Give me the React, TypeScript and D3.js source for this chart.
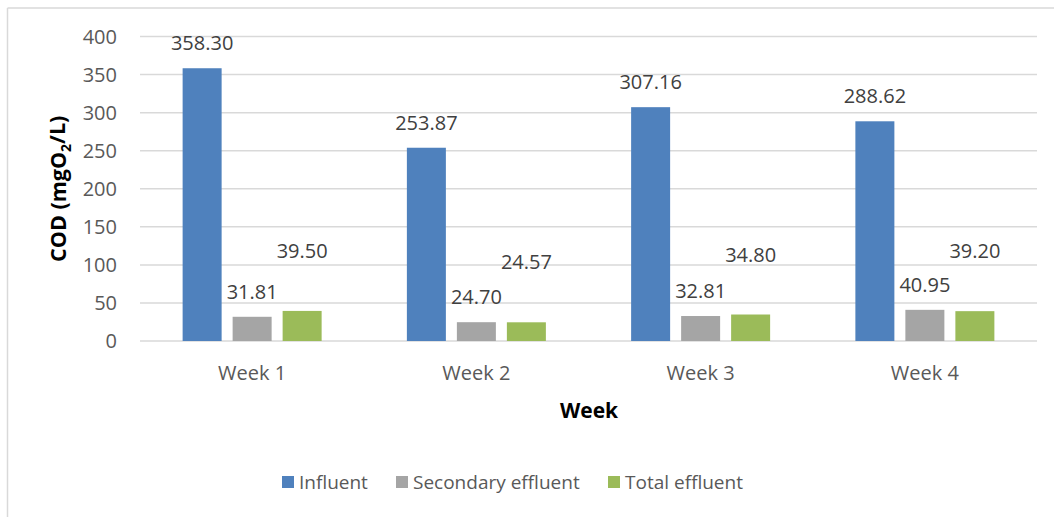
import * as d3 from "d3";

const weeks = ["Week 1", "Week 2", "Week 3", "Week 4"];
const seriesNames = ["Influent", "Secondary effluent", "Total effluent"];
const influent = [358.3, 253.87, 307.16, 288.62];
const secondary = [31.81, 24.7, 32.81, 40.95];
const total = [39.5, 24.57, 34.8, 39.2];
const yTicks = [0, 50, 100, 150, 200, 250, 300, 350, 400];

const colors = ["#4F81BD", "#A5A5A5", "#9BBB59"];
// Excel had the total effluent labels dragged up higher
const labelLift = [25, 25, 60];

const width = 1054;
const height = 517;
const margin = { left: 140, right: 17, top: 36.5, bottom: 176 };
const font = "'Open Sans', sans-serif";

const App = () => {
	const series = [influent, secondary, total];
	const x = d3
		.scaleBand()
		.domain(weeks)
		.range([margin.left, width - margin.right]);
	const y = d3
		.scaleLinear()
		.domain([0, 400])
		.range([height - margin.bottom, margin.top]);
	const barW = 39;
	const step = 50;

	const legendX = [282, 396, 608];

	return (
		<svg
			width={width}
			height={height}
			style={{ position: "absolute", left: 0, top: 0, background: "#fff" }}
			fontFamily={font}
		>
			<line x1={7.5} x2={7.5} y1={8} y2={height} stroke="#d9d9d9" strokeWidth={1.5} />
			<line x1={7.5} x2={width} y1={8} y2={8} stroke="#d9d9d9" strokeWidth={1.5} />

			{yTicks.map((t) => (
				<g key={t}>
					<line
						x1={margin.left}
						x2={width - margin.right}
						y1={y(t)}
						y2={y(t)}
						stroke="#d9d9d9"
						strokeWidth={1.5}
					/>
					<text
						x={117}
						y={y(t)}
						dy="0.36em"
						textAnchor="end"
						fontSize={20}
						fill="#595959"
					>
						{t}
					</text>
				</g>
			))}

			{weeks.map((w, i) => {
				const cx = x(w)! + x.bandwidth() / 2;
				const x0 = cx - (step * 2 + barW) / 2;
				return (
					<g key={w}>
						{series.map((s, j) => {
							const bx = x0 + j * step;
							return (
								<g key={j}>
									<rect
										x={bx}
										y={y(s[i])}
										width={barW}
										height={y(0) - y(s[i])}
										fill={colors[j]}
									/>
									<text
										x={bx + barW / 2}
										y={y(s[i]) - labelLift[j]}
										dy="0.36em"
										textAnchor="middle"
										fontSize={20}
										fill="#404040"
									>
										{s[i].toFixed(2)}
									</text>
								</g>
							);
						})}
						<text
							x={cx}
							y={373}
							dy="0.36em"
							textAnchor="middle"
							fontSize={20}
							fill="#595959"
						>
							{w}
						</text>
					</g>
				);
			})}

			<text
				x={589}
				y={410}
				dy="0.36em"
				textAnchor="middle"
				fontSize={21}
				fontWeight="bold"
				fill="#000"
			>
				Week
			</text>
			<text
				transform={`translate(58,${(y(0) + y(400)) / 2}) rotate(-90)`}
				dy="0.36em"
				textAnchor="middle"
				fontSize={21.5}
				fontWeight="bold"
				fill="#000"
			>
				COD (mgO
				<tspan fontSize={14} dy="0.35em">
					2
				</tspan>
				<tspan dy="-0.25em">/L)</tspan>
			</text>

			{seriesNames.map((n, j) => (
				<g key={n} transform={`translate(${legendX[j]},482)`}>
					<rect x={0} y={-6} width={12} height={12} fill={colors[j]} />
					<text x={17} y={0} dy="0.36em" fontSize={19} fill="#595959">
						{n}
					</text>
				</g>
			))}
		</svg>
	);
};

export default App;
